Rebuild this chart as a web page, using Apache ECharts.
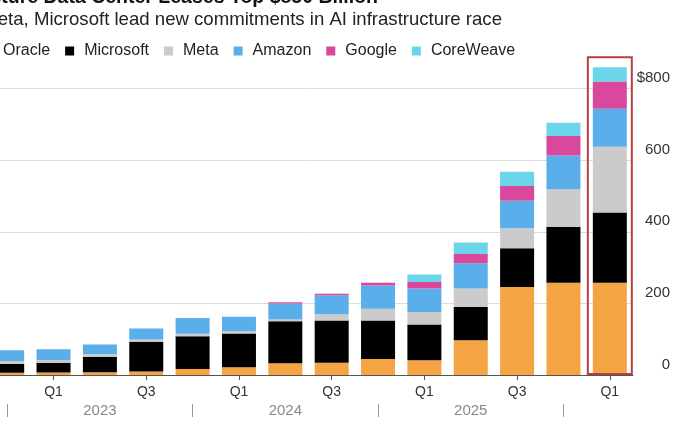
<!DOCTYPE html>
<html>
<head>
<meta charset="utf-8">
<script src="https://cdn.jsdelivr.net/npm/echarts@6/dist/echarts.min.js"></script>
<style>
  html, body { margin: 0; padding: 0; background: #fff; overflow: hidden; }
  /* the source picture is cropped on the left, so the canvas starts off-screen */
  #chart { width: 689px; height: 431px; margin-left: -16px; }
</style>
</head>
<body>
<div id="chart"></div>
<script>
const quarters = [
  "Q4 2022", "Q1 2023", "Q2 2023", "Q3 2023", "Q4 2023",
  "Q1 2024", "Q2 2024", "Q3 2024", "Q4 2024",
  "Q1 2025", "Q2 2025", "Q3 2025", "Q4 2025", "Q1 2026"
];

// $ billions
const oracle    = [6, 7, 8, 10, 17, 22, 33, 34, 45, 41, 97, 246, 258, 258];
const microsoft = [25, 27, 42, 82, 91, 94, 117, 118, 107, 100, 93, 108, 156, 196];
const meta      = [8, 8, 8, 7, 7, 7, 5, 18, 33, 35, 52, 56, 105, 184];
const amazon    = [30, 30, 27, 31, 44, 40, 45, 53, 65, 66, 70, 77, 94, 106];
const google    = [0, 0, 0, 0, 0, 0, 3, 4, 8, 18, 26, 41, 55, 76];
const coreweave = [0, 0, 0, 0, 0, 0, 0, 0, 0, 21, 32, 40, 37, 40];

const yTicks = [0, 200, 400, 600, 800];
const highlighted = "Q1 2026";

const font = "'Liberation Sans', Arial, Helvetica, sans-serif";
const shift = 16; // canvas offset to the left of the page

const chart = echarts.init(document.getElementById("chart"));

function barSeries(name, data, color) {
  return {
    name: name,
    type: "bar",
    stack: "total",
    barWidth: 34,
    data: data,
    itemStyle: { color: color },
  };
}

const option = {
  animation: false,
  backgroundColor: "#fff",
  textStyle: { fontFamily: font },
  legend: {
    left: 0,
    top: 43,
    padding: 0,
    itemGap: 15,
    itemWidth: 9,
    itemHeight: 9,
    icon: "rect",
    textStyle: { fontSize: 16, color: "#222", fontFamily: font, padding: [0, 0, 0, 5] },
    data: ["Oracle", "Microsoft", "Meta", "Amazon", "Google", "CoreWeave"],
  },
  grid: { left: 0, right: 38, top: 60, bottom: 56, containLabel: false },
  xAxis: [
    {
      type: "category",
      data: quarters,
      axisLine: { lineStyle: { color: "#555", width: 1 } },
      axisTick: { show: true, alignWithLabel: true, length: 5, lineStyle: { color: "#555" } },
      axisLabel: {
        margin: 10,
        fontSize: 14,
        color: "#333",
        fontFamily: font,
        interval: (i, v) => v.startsWith("Q1") || v.startsWith("Q3"),
        formatter: (v) => v.split(" ")[0],
      },
    },
    {
      type: "category",
      data: quarters,
      position: "bottom",
      offset: 29,
      axisLine: { show: false },
      axisTick: {
        show: true,
        alignWithLabel: true,
        length: 13,
        interval: (i, v) => v.startsWith("Q4"),
        lineStyle: { color: "#999" },
      },
      axisLabel: {
        margin: -1,
        fontSize: 15,
        color: "#888",
        fontFamily: font,
        interval: (i, v) => v.startsWith("Q2"),
        formatter: (v) => v.split(" ")[1],
      },
    },
  ],
  yAxis: {
    type: "value",
    position: "right",
    min: yTicks[0],
    max: 880,
    interval: 200,
    axisLine: { show: false },
    axisTick: { show: false },
    splitLine: { show: true, showMaxLine: false, lineStyle: { color: "#dcdcdc" } },
    axisLabel: {
      showMaxLabel: false,
      margin: 37,
      align: "right",
      verticalAlign: "bottom",
      padding: [0, 0, 3, 0],
      fontSize: 15,
      color: "#333",
      fontFamily: font,
      formatter: (v) => (v === yTicks[yTicks.length - 1] ? "$" + v : String(v)),
    },
  },
  series: [
    barSeries("Oracle", oracle, "#f4a443"),
    barSeries("Microsoft", microsoft, "#000000"),
    barSeries("Meta", meta, "#cbcbcb"),
    barSeries("Amazon", amazon, "#5aaeea"),
    barSeries("Google", google, "#d9489c"),
    barSeries("CoreWeave", coreweave, "#6bd6ea"),
  ],
};

chart.setOption(option);

// red outline around the latest quarter, placed through the chart's own scales
const cx = chart.convertToPixel({ xAxisIndex: 0 }, highlighted);
const yTop = chart.convertToPixel({ yAxisIndex: 0 }, 888);
const yBase = chart.convertToPixel({ yAxisIndex: 0 }, 0);

chart.setOption({
  graphic: [
    {
      type: "text",
      x: 378 + shift,
      y: 8,
      style: {
        text: "AI Infrastructure Data Center Leases Top $850 Billion",
        font: "bold 19.5px " + font,
        fill: "#111",
        align: "right",
        verticalAlign: "bottom",
      },
    },
    {
      type: "text",
      x: 502 + shift,
      y: 20,
      style: {
        text: "Oracle, Meta, Microsoft lead new commitments in AI infrastructure race",
        font: "18.6px " + font,
        fill: "#222",
        align: "right",
        verticalAlign: "middle",
      },
    },
    {
      type: "rect",
      shape: { x: cx - 22, y: yTop, width: 44, height: yBase - yTop - 1 },
      style: { fill: "none", stroke: "#b8403c", lineWidth: 2 },
      z: 10,
    },
  ],
});
</script>
</body>
</html>
